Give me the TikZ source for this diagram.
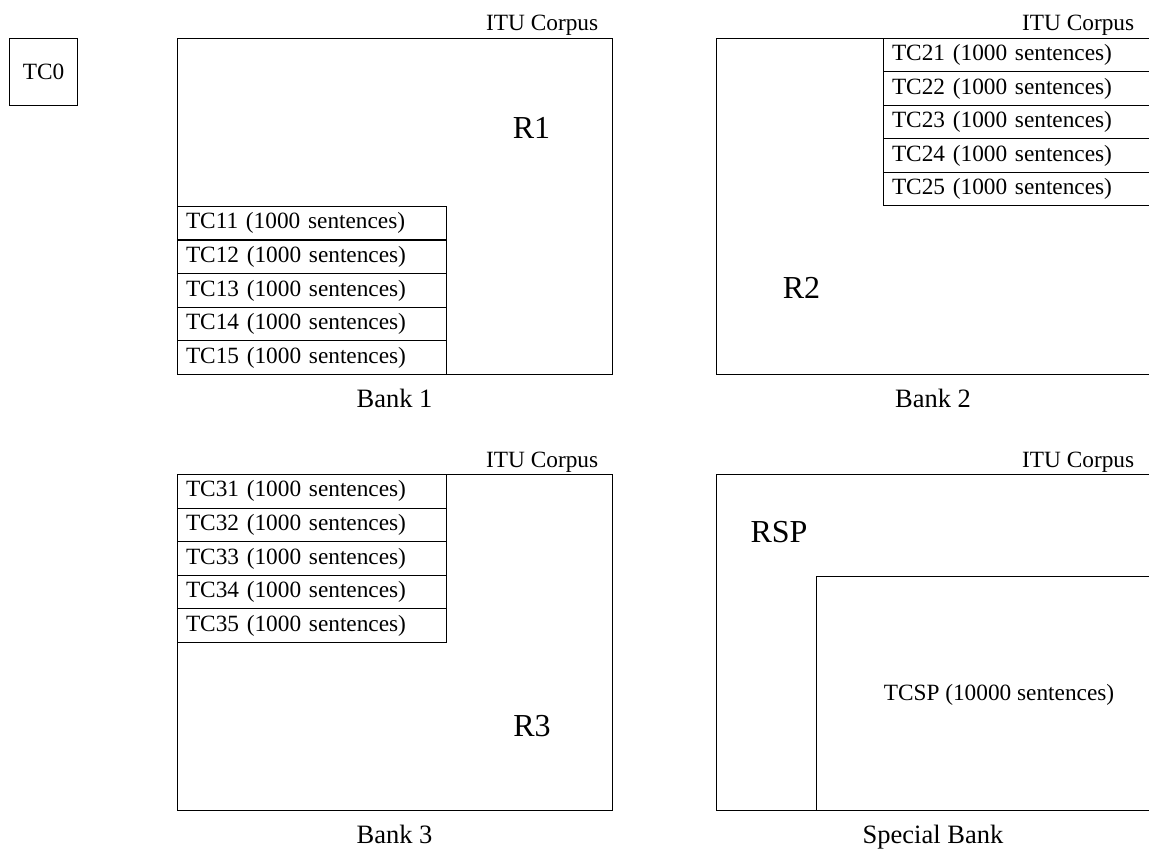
\documentclass[tikz,border=0pt]{standalone}
\usepackage{fontspec}
\setmainfont{Liberation Serif}
\begin{document}
\begin{tikzpicture}[x=1pt,y=-1pt,
  line width=1pt,
  every node/.style={font=\fontsize{23.3}{28}\selectfont},
  region/.style={draw, anchor=north west, inner sep=0pt},
  rowbox/.style={draw, anchor=north west, inner xsep=8.5pt, inner ysep=0pt,
    minimum height=33.5pt, text width=#1, align=left},
  corpus/.style={anchor=base east},
  banklabel/.style={anchor=base, font=\fontsize{26.5}{32}\selectfont},
  regionlabel/.style={anchor=base, font=\fontsize{32}{38}\selectfont}]
\useasboundingbox (0,0) rectangle (1149,850);
\clip (0,0) rectangle (1149,850);

% stand-alone test corpus
\node[draw, minimum width=68pt, minimum height=67pt, inner sep=0pt, anchor=north west] (tc0) at (9,38) {};
\node at (tc0.center) {TC0};

% Bank 1
\node[region, minimum width=435pt, minimum height=336pt] (b1) at (177,38) {};
\node[corpus] (c1) at (602,31) {ITU Corpus};
\node[regionlabel] (r1) at (531.5,139) {R1};
\foreach \i [count=\k from 0] in {1,...,5}
  \node[rowbox=252pt] (tc1\i) at (177,{206+33.6*\k}) {TC1\i\ (1000 sentences)};
\node[banklabel] (l1) at (394.5,407) {Bank 1};

% Bank 2
\node[region, minimum width=480pt, minimum height=336pt] (b2) at (716,38) {};
\node[corpus] (c2) at (1138,31) {ITU Corpus};
\node[regionlabel] (r2) at (801.5,299) {R2};
\foreach \i [count=\k from 0] in {1,...,5}
  \node[rowbox=300pt] (tc2\i) at (883,{38+33.4*\k}) {TC2\i\ (1000 sentences)};
\node[banklabel] (l2) at (933,407) {Bank 2};

% Bank 3
\node[region, minimum width=435pt, minimum height=336pt] (b3) at (177,474) {};
\node[corpus] (c3) at (602,467) {ITU Corpus};
\node[regionlabel] (r3) at (532,736) {R3};
\foreach \i [count=\k from 0] in {1,...,5}
  \node[rowbox=252pt] (tc3\i) at (177,{474+33.6*\k}) {TC3\i\ (1000 sentences)};
\node[banklabel] (l3) at (394.5,843) {Bank 3};

% Special bank
\node[region, minimum width=480pt, minimum height=336pt] (bs) at (716,474) {};
\node[corpus] (cs) at (1138,467) {ITU Corpus};
\node[regionlabel] (rsp) at (779,542) {RSP};
\node[region, minimum width=400pt, minimum height=234pt] (tcsp) at (816,576) {};
\node (tcsplabel) at (999,695) {TCSP (10000 sentences)};
\node[banklabel] (ls) at (933,843) {Special Bank};
\end{tikzpicture}
\end{document}
